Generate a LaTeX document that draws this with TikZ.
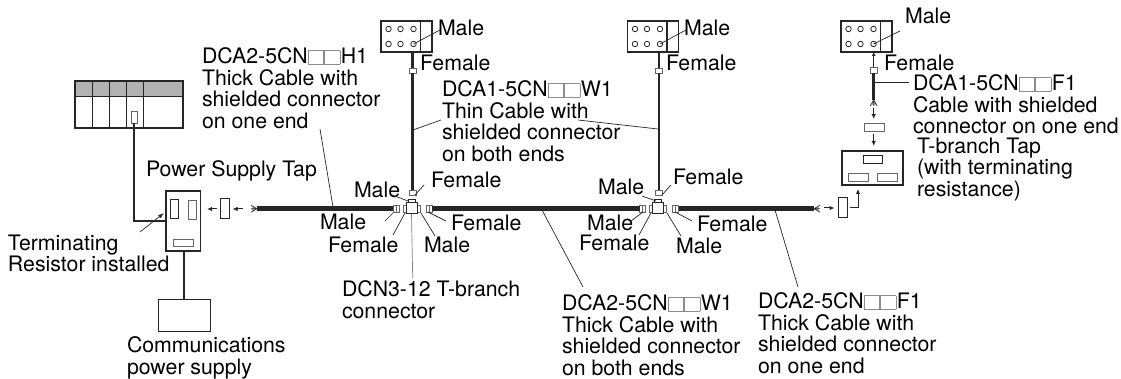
\documentclass[tikz,border=0pt]{standalone}
\usepackage{fontspec}
\setmainfont{TeX Gyre Heros}
\usepackage{xcolor}
\usetikzlibrary{arrows.meta}

\newcommand{\cnblank}{{\color{black!45}\setlength{\fboxsep}{0pt}\setlength{\fboxrule}{0.7pt}\fbox{\rule{0pt}{13pt}\hspace{14.5pt}}}\hspace{0.6pt}}

\tikzset{
  part/.style={draw=black!85,fill=white,line width=1pt,inner sep=0pt,outer sep=0pt},
  heavy/.style={draw=black!85,fill=white,line width=1.5pt,inner sep=0pt,outer sep=0pt},
  small/.style={draw=black!60,fill=white,line width=0.9pt,inner sep=0pt,outer sep=0pt},
  pin/.style={draw=black!85,circle,line width=0.8pt,inner sep=0pt,minimum size=5.5pt},
  wh/.style 2 args={minimum width=#1pt,minimum height=#2pt},
  lbl/.style={anchor=north west,inner sep=0pt,outer sep=0pt,align=left,font=\fontsize{21.3}{21.4}\selectfont},
  cable/.style={draw=black!85,line width=2.7pt},
  trunk/.style={draw=black!85,line width=5pt},
  leader/.style={draw=black!85,line width=0.7pt},
  move/.style={draw=black!85,line width=1pt,-{Latex[length=5pt,width=4.5pt]}},
  fray/.pic={\draw[black!80,line width=0.7pt] (0,0) -- (6,-3.5) (0,0) -- (6,0) (0,0) -- (6,3.5) (2,-1.8) -- (2,1.8) (4,-2.8) -- (4,2.8);}
}

\begin{document}
\begin{tikzpicture}[x=1pt,y=-1pt]
  \useasboundingbox (0,0) rectangle (1121,379);

  % controller
  \node[heavy,wh={108}{47}] (plc) at (129,104.5) {};
  \fill[black!30] (plc.north west) rectangle (183,96);
  \draw[black!85,line width=0.9pt] (75,96) -- (183,96);
  \foreach \x in {92,109,126,143}
    \draw[black!85,line width=0.8pt] (\x,81) -- (\x,128);
  \draw[black!85,line width=1.5pt] (plc.north west) rectangle (plc.south east);
  \node[small,wh={6}{12}] (port) at (134,117) {};

  % power supply tap
  \node[heavy,wh={34.5}{60}] (tap) at (183.2,221) {};
  \node[part,wh={8}{19}] (tapl) at (174.5,209.5) {};
  \node[small,wh={8}{19}] (tapr) at (192,209.5) {};
  \node[small,wh={20}{7}] (tapb) at (183,242.5) {};
  \node[part,wh={52}{32}] (comm) at (184,315) {};
  \draw[cable] (port.south) |- (tap.west);
  \draw[cable,line width=2.2pt] (tap.south -| comm.north) -- (comm.north);
  \node[part,wh={9}{20}] (termw) at (224.5,209) {};
  \coordinate (arrowa) at (217,209);
  \coordinate (tipa) at (207,209);
  \coordinate (arrowb) at (243,209);
  \coordinate (tipb) at (232.5,209);
  \draw[move] (arrowa) -- (tipa);
  \draw[move] (arrowb) -- (tipb);
  \coordinate (frayw) at (257,208.7);
  \pic[rotate=180] at (frayw) {fray};

  % top devices
  \foreach \n/\x in {a/381,b/627.5,c/841}{
    \node[heavy,wh={51}{31}] (dev\n) at (\x+25.5,36.5) {};
    \draw[black!85,line width=1.1pt] (\x+39.5,21) -- (\x+39.5,52);
    \foreach \i/\dx in {1/7.5,2/19.5,3/32.5}{
      \node[pin] (pin\n\i) at (\x+\dx,29) {};
      \node[pin] (pon\n\i) at (\x+\dx,44) {};
    }
  }

  % T-branch connectors
  \foreach \n/\d in {a/0,b/246.5}{
    \begin{scope}[xshift=\d pt]
      \node[small,wh={7}{5}] (top\n) at (412.5,70.5) {};
      \node[small,wh={7}{5}] (cap\n) at (412.5,192.5) {};
      \node[part,wh={7}{3}] (nub\n) at (411.5,201.5) {};
      \node[small,wh={3}{7}] (sl\n) at (404.5,208.7) {};
      \node[small,wh={3}{7}] (sr\n) at (418.5,208.7) {};
      \node[part,wh={11}{11}] (body\n) at (411.5,208.5) {};
      \node[small,wh={6}{7}] (plugl\n) at (396,208.7) {};
      \node[small,wh={6}{7}] (plugr\n) at (429,208.7) {};
      \draw[black!60,line width=0.6pt] (plugl\n.north) -- (plugl\n.south) (plugr\n.north) -- (plugr\n.south);
      \draw[cable,line width=2.2pt] (top\n.north |- dev\n.south) -- (top\n.north);
      \draw[cable] (top\n.south) -- (cap\n.north);
    \end{scope}
  }

  % trunk cables
  \draw[trunk] (frayw) -- (plugla.west);
  \draw[trunk] (plugra.east) -- (pluglb.west);
  \coordinate (frayz) at (814,208.7);
  \draw[trunk] (plugrb.east) -- (frayz);
  \pic at (frayz) {fray};

  % right end
  \node[part,wh={9}{20}] (termz) at (842.5,208) {};
  \node[heavy,wh={61}{34}] (ttap) at (872.5,168) {};
  \node[part,wh={19}{7.5}] (ttapt) at (872.5,159.3) {};
  \node[small,wh={20}{8}] (ttapl) at (858,177) {};
  \node[small,wh={20}{8}] (ttapr) at (887,177) {};
  \node[small,wh={20}{8.5}] (lead) at (874,127.3) {};
  \node[small,wh={7}{6}] (topc) at (873.7,70) {};
  \coordinate (frayc) at (873.7,100);
  \pic[rotate=-90] at (frayc) {fray};
  \draw[cable] (topc.south) -- (frayc);
  \draw[cable,line width=1.2pt,-{Latex[length=4pt,width=4pt]}] (topc.north) -- (devc.south -| topc.north);
  \coordinate (arrowc) at (873.7,108);
  \coordinate (tipc) at (873.7,119);
  \draw[move] (arrowc) -- (tipc);
  \coordinate (arrowd) at (873.7,134);
  \coordinate (tipd) at (873.7,146);
  \draw[move] (arrowd) -- (tipd);
  \coordinate (arrowe) at (824,208);
  \coordinate (tipe) at (834.5,208);
  \draw[move] (arrowe) -- (tipe);
  \coordinate (arrowf) at (850,208);
  \coordinate (tipf) at (858,189);
  \draw[move] (arrowf) -| (tipf);

  % labels
  \node[lbl] (lbltitle) at (202,48) {DCA2-5CN\cnblank\cnblank H1\\Thick Cable with\\shielded connector\\on one end};
  \node[lbl] (lblthin) at (442,81) {DCA1-5CN\cnblank\cnblank W1\\Thin Cable with\\shielded connector\\on both ends};
  \node[lbl] (lbltap) at (146,161) {Power Supply Tap};
  \node[lbl] (lblterm) at (8,235) {Terminating\\Resistor installed};
  \node[lbl] (lblcomm) at (127,337) {Communications\\power supply};
  \node[lbl] (lblmid) at (562,295) {DCA2-5CN\cnblank\cnblank W1\\Thick Cable with\\shielded connector\\on both ends};
  \node[lbl] (lblend) at (758,293) {DCA2-5CN\cnblank\cnblank F1\\Thick Cable with\\shielded connector\\on one end};
  \node[lbl] (lbldrop) at (913,75) {DCA1-5CN\cnblank\cnblank F1\\Cable with shielded\\connector on one end};
  \node[lbl] (lblttap) at (917,138) {T-branch Tap\\(with terminating\\resistance)};
  \node[lbl] (lbldcn) at (342,281) {DCN3-12 T-branch\\connector};
  \foreach \n/\x/\y/\t in {ma/438/20/Male,fa/420/55/Female,mb/684/20/Male,fb/666/55/Female,mc/905/8/Male,fc/884/55/Female,
      mla/320/214/Male,fla/328/237/Female,mta/354/182/Male,fta/431/172/Female,fra/451/215/Female,mra/424/237/Male,
      mlb/587/215/Male,flb/579/235/Female,mtb/598/179/Male,ftb/673/169/Female,frb/697/216/Female,mrb/676/238/Male}
    \node[lbl] (lbl\n) at (\x,\y) {\t};

  % leaders
  \foreach \n/\ax/\ay/\bx/\by in {h/320/129/333/207,wl/441/120/413/130,wr/578/120/658/129,wb/542/210/583/287,fb/775/210/798/287,
      la/385/221/393/213,lb/393/235/405/213,lc/435/236/421/213,ld/446/221/428/212,le/392/195/408/201,lf/424/185/415/195,
      ma/631/221/643/212,mb/639/235/651/213,mc/681/236/667/213,md/692/221/675/212,me/642/196/656/201,mf/671/185/662/195,
      dr/874/82/909/82}{
    \coordinate (s\n) at (\ax,\ay);
    \coordinate (e\n) at (\bx,\by);
    \draw[leader] (s\n) -- (e\n);
  }
  \coordinate (dcnend) at (412.7,278);
  \draw[leader,draw=black!50] (bodya.south) -- (dcnend);
  \coordinate (ma) at (440,30);
  \coordinate (mb) at (686,30);
  \coordinate (mc) at (900,31);
  \draw[leader] (pona3.center) -- (ma);
  \draw[leader] (ponb3.center) -- (mb);
  \draw[leader] (ponc3.center) -- (mc);
  \coordinate (tmstart) at (140,232);
  \coordinate (tmend) at (164,213);
  \draw[leader,-{Latex[length=6pt,width=4pt]}] (tmstart) -- (tmend);
\end{tikzpicture}
\end{document}
